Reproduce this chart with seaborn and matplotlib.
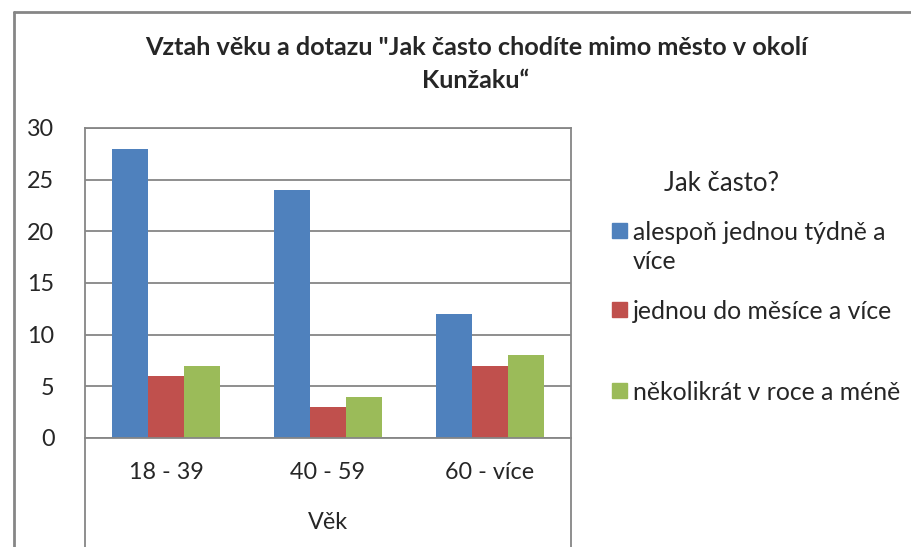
import pandas as pd
import matplotlib.pyplot as plt
import seaborn as sns
from matplotlib.lines import Line2D
from matplotlib.patches import Rectangle

# data
vek = ["18 - 39", "40 - 59", "60 - více"]
odpovedi = ["alespoň jednou týdně a\nvíce", "jednou do měsíce a více", "několikrát v roce a méně"]
tydne = [28, 24, 12]
mesic = [6, 3, 7]
rok = [7, 4, 8]
barvy = ["#4F81BD", "#C0504D", "#9BBB59"]

data = pd.DataFrame({
    "Věk": vek * 3,
    "Jak často?": [odpovedi[0]] * 3 + [odpovedi[1]] * 3 + [odpovedi[2]] * 3,
    "Počet": tydne + mesic + rok,
})

sns.set_style("white")
plt.rcParams["font.family"] = ["Lato", "DejaVu Sans"]

fig = plt.figure(figsize=(9.11, 5.47), dpi=100)
ax = fig.add_axes([85 / 911, 109 / 547, 486 / 911, 310 / 547])

sns.barplot(data=data, x="Věk", y="Počet", hue="Jak často?", palette=barvy,
            width=0.667, gap=0, linewidth=0, saturation=1, ax=ax, legend=False)

grey = "#868686"
ax.set_ylim(0, 30)
ax.set_yticks(range(0, 31, 5))
ax.yaxis.grid(True, color=grey, linewidth=1.3)
ax.set_axisbelow(True)
for s in ax.spines.values():
    s.set_color(grey)
    s.set_linewidth(1.3)
ax.tick_params(axis="y", length=0, labelsize=16.8, pad=22)
ax.tick_params(axis="x", length=0, labelsize=16.8, pad=17)
ax.set_xlabel("Věk", fontsize=16.8, labelpad=21)
ax.set_ylabel("")

# vertical lines continuing below the axis
for xp in (85, 571):
    fig.add_artist(Line2D([xp / 911, xp / 911], [0, 109 / 547], color=grey, linewidth=1.3))

# outer frame
fig.add_artist(Line2D([14 / 911, 1], [535 / 547, 535 / 547], color=grey, linewidth=2))
fig.add_artist(Line2D([14 / 911, 14 / 911], [0, 535 / 547], color=grey, linewidth=2))

fig.text(476 / 911, 1 - 48 / 547, "Vztah věku a dotazu \"Jak často chodíte mimo město v okolí",
         ha="center", va="center", fontsize=18.2, fontweight="bold")
fig.text(476 / 911, 1 - 80 / 547, "Kunžaku“",
         ha="center", va="center", fontsize=18.2, fontweight="bold")

# legend
fig.text(722 / 911, 1 - 184 / 547, "Jak často?", ha="center", va="center", fontsize=18.5)
leg_y = [231, 310, 391]
for lbl, c, yy in zip(odpovedi, barvy, leg_y):
    fig.add_artist(Rectangle((612 / 911, 1 - (yy + 7) / 547), 15 / 911, 15 / 547,
                             color=c, transform=fig.transFigure))
    fig.text(633 / 911, 1 - (yy - 10) / 547, lbl, ha="left", va="top",
             fontsize=17.8, linespacing=1.3)

fig.savefig("out.png", dpi=100)
